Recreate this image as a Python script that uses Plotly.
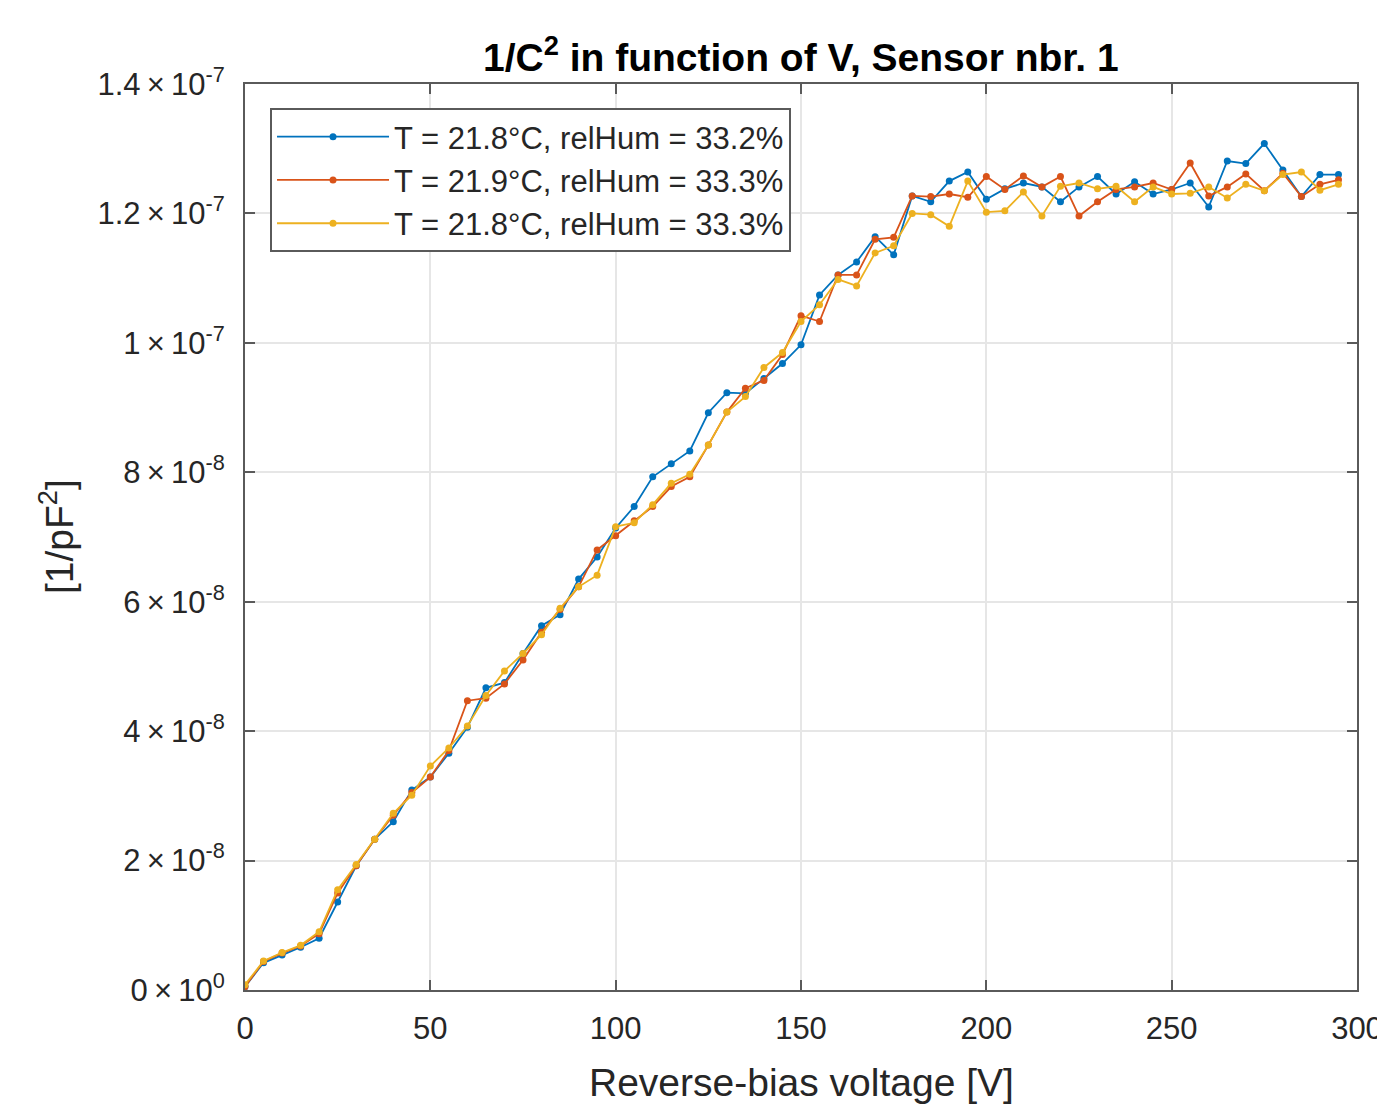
import plotly.graph_objects as go

# ── DATA (1/C^2 in units of 1e-8 1/pF^2) ──────────────────────────────
voltage = list(range(0, 300, 5))

blue_vals = [
    0.05, 0.42, 0.54, 0.66, 0.80, 1.36, 1.92, 2.33, 2.60, 3.09,
    3.29, 3.66, 4.06, 4.67, 4.75, 5.20, 5.63, 5.80, 6.35, 6.69,
    7.14, 7.47, 7.93, 8.13, 8.33, 8.92, 9.23, 9.22, 9.45, 9.68,
    9.97, 10.74, 11.05, 11.25, 11.64, 11.36, 12.27, 12.18, 12.50, 12.64,
    12.22, 12.38, 12.47, 12.41, 12.18, 12.41, 12.57, 12.30, 12.49, 12.30,
    12.37, 12.47, 12.10, 12.81, 12.77, 13.08, 12.67, 12.26, 12.60, 12.60,
]
red_vals = [
    0.05, 0.44, 0.57, 0.68, 0.87, 1.50, 1.92, 2.33, 2.70, 3.05,
    3.29, 3.70, 4.47, 4.51, 4.73, 5.10, 5.53, 5.88, 6.23, 6.80,
    7.02, 7.25, 7.47, 7.78, 7.93, 8.42, 8.93, 9.30, 9.42, 9.82,
    10.42, 10.33, 11.05, 11.05, 11.60, 11.63, 12.27, 12.26, 12.30, 12.25,
    12.57, 12.37, 12.58, 12.41, 12.57, 11.96, 12.18, 12.37, 12.41, 12.47,
    12.37, 12.78, 12.27, 12.41, 12.61, 12.35, 12.62, 12.26, 12.45, 12.52,
]
yellow_vals = [
    0.08, 0.45, 0.58, 0.69, 0.90, 1.55, 1.94, 2.33, 2.73, 3.01,
    3.46, 3.74, 4.08, 4.55, 4.93, 5.20, 5.49, 5.90, 6.23, 6.41,
    7.16, 7.22, 7.50, 7.83, 7.97, 8.42, 8.93, 9.17, 9.62, 9.85,
    10.33, 10.59, 10.98, 10.88, 11.39, 11.50, 12.00, 11.98, 11.80, 12.50,
    12.02, 12.04, 12.33, 11.96, 12.42, 12.47, 12.38, 12.42, 12.18, 12.41,
    12.30, 12.31, 12.41, 12.24, 12.45, 12.35, 12.60, 12.64, 12.36, 12.45,
]

series_names = [
    "T = 21.8°C, relHum = 33.2%",
    "T = 21.9°C, relHum = 33.3%",
    "T = 21.8°C, relHum = 33.3%",
]
series_colors = ["#0072BD", "#D95319", "#EDB120"]

y_tickvals = [0, 2e-8, 4e-8, 6e-8, 8e-8, 1e-7, 1.2e-7, 1.4e-7]
y_mant = ["0", "2", "4", "6", "8", "1", "1.2", "1.4"]
y_exp = ["0", "-8", "-8", "-8", "-8", "-7", "-7", "-7"]
y_ticktext = [f"{m}\u2009×\u200910<sup>{e}</sup>" for m, e in zip(y_mant, y_exp)]

FONT = "Liberation Sans, Arial, Helvetica, sans-serif"
AXIS_GREY = "#5a5a5a"
TEXT = "#262626"

fig = go.Figure()
for vals, name, color in zip([blue_vals, red_vals, yellow_vals], series_names, series_colors):
    fig.add_trace(go.Scatter(
        x=voltage, y=[v * 1e-8 for v in vals],
        mode="lines+markers", name=name,
        line=dict(color=color, width=1.8),
        marker=dict(color=color, size=7),
    ))

# page body adds an 8px margin, so the figure is sized to fit the window
fig.update_layout(
    width=1377, height=1098,
    paper_bgcolor="white", plot_bgcolor="white",
    margin=dict(l=237, r=28, t=76, b=116),
    font=dict(family=FONT, size=31, color=TEXT),
    showlegend=True,
    legend=dict(
        x=0.0225, y=0.9735, xanchor="left", yanchor="top",
        bgcolor="white", bordercolor=AXIS_GREY, borderwidth=2,
        font=dict(size=31, color=TEXT),
        itemwidth=112, tracegroupgap=0,
    ),
    annotations=[
        dict(text="<b>1/C<sup>2</sup> in function of V, Sensor nbr. 1</b>",
             x=0.5, y=1, xref="paper", yref="paper", yshift=30,
             xanchor="center", yanchor="middle", showarrow=False,
             font=dict(size=39, color="#000000")),
        dict(text="Reverse-bias voltage [V]",
             x=0.5, y=0, xref="paper", yref="paper", yshift=-92,
             xanchor="center", yanchor="middle", showarrow=False,
             font=dict(size=39, color=TEXT)),
        dict(text="[1/pF<sup>2</sup>]", textangle=-90,
             x=0, y=0.5, xref="paper", yref="paper", xshift=-189,
             xanchor="center", yanchor="middle", showarrow=False,
             font=dict(size=39, color=TEXT)),
    ],
)

fig.update_xaxes(
    range=[0, 300], tickvals=[0, 50, 100, 150, 200, 250, 300],
    ticks="inside", ticklen=10, tickcolor=AXIS_GREY, tickwidth=1.5,
    showline=True, linecolor=AXIS_GREY, linewidth=2, mirror="ticks",
    showgrid=True, gridcolor="#e6e6e6", gridwidth=1.5, zeroline=False,
    tickfont=dict(size=31, color=TEXT), ticklabelstandoff=10,
    automargin=False,
)
fig.update_yaxes(
    range=[0, 1.4e-7], tickvals=y_tickvals, ticktext=y_ticktext,
    ticks="inside", ticklen=10, tickcolor=AXIS_GREY, tickwidth=1.5,
    showline=True, linecolor=AXIS_GREY, linewidth=2, mirror="ticks",
    showgrid=True, gridcolor="#e6e6e6", gridwidth=1.5, zeroline=False,
    tickfont=dict(size=31, color=TEXT), ticklabelstandoff=12,
    automargin=False,
)

fig.write_html("out.html")
